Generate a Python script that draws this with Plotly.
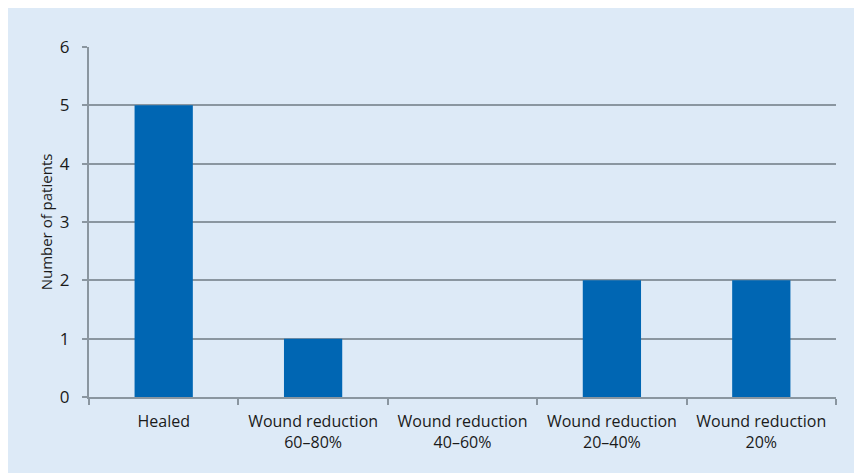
import plotly.graph_objects as go

categories = ["Healed", "Wound reduction<br>60–80%", "Wound reduction<br>40–60%",
              "Wound reduction<br>20–40%", "Wound reduction<br>20%"]
patients = [5, 1, 0, 2, 2]
y_ticks = [0, 1, 2, 3, 4, 5, 6]

W, H = 862, 473
# page body has an 8px margin; plot area in page coords: x 89..836, y 47..397
L, R, T, B = 81, 828, 39, 389

fig = go.Figure(go.Bar(x=categories, y=patients, marker=dict(color="#0066b3", line=dict(width=0)),
                       width=0.39))

fig.update_layout(
    width=W, height=H,
    margin=dict(l=L, r=W - R, t=T, b=H - B, autoexpand=False),
    paper_bgcolor="#ddeaf7", plot_bgcolor="#ddeaf7",
    font=dict(family="Open Sans", color="#1a1a1a"),
    showlegend=False,
    xaxis=dict(type="category", tickson="boundaries", ticks="outside", ticklen=6,
               tickcolor="#8a96a0", tickwidth=1.5, showline=True, linecolor="#8a96a0", linewidth=2,
               tickfont=dict(size=16), ticklabelstandoff=9, showgrid=False, range=[-0.5, 4.5],
               automargin=False),
    yaxis=dict(range=[0, 6], tickvals=y_ticks, ticks="outside", ticklen=5, tickcolor="#8a96a0",
               tickwidth=2, showline=True, linecolor="#8a96a0", linewidth=2,
               gridcolor="#8a96a0", gridwidth=2, tickfont=dict(size=17), ticklabelstandoff=9,
               zeroline=False, automargin=False,
               title=dict(text="Number of patients", font=dict(size=15), standoff=4)),
)

fig.write_html("out.html")
